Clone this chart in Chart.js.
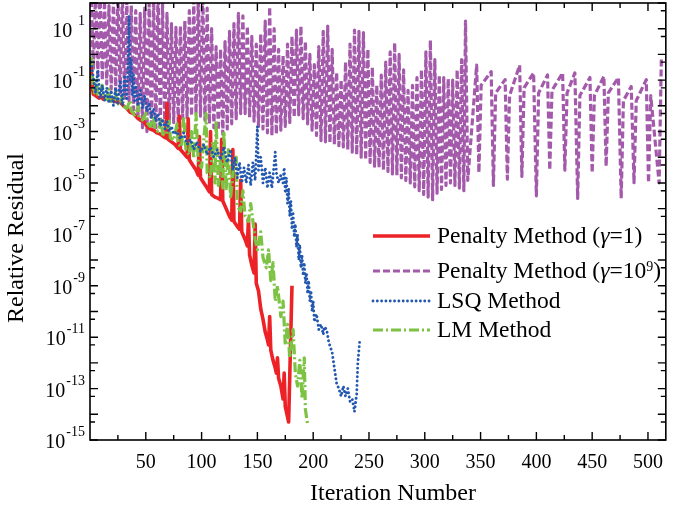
<!DOCTYPE html>
<html>
<head>
<meta charset="utf-8">
<script src="https://cdn.jsdelivr.net/npm/chart.js@4.4.1/dist/chart.umd.min.js"></script>
<style>
  html, body { margin: 0; padding: 0; background: #fff; }
  #wrap { width: 674px; height: 508px; }
</style>
</head>
<body>
<div id="wrap"><canvas id="chart" width="674" height="508"></canvas></div>
<script>
// values are stored as log10(residual)
const redIter = [1,2,3,5,8,10,12,15,18,21,24,27,30,33,36,39,42,45,48,51,54,57,60,63,66,68,69,70,73,76,79,80,81,84,87,88,89,92,95,97,98,99,102,105,107,108,109,112,115,117,118,119,122,125,127,128,129,132,134,135,136,139,141,142,143,145,147,148,149,151,153,155,157,159,160,161,162,164,166,167,168,169,171,173,174,175,177,178,181];
const redLog = [-0.45,-1.2,-1.55,-1.6,-1.7,-1.65,-1.75,-1.7,-1.8,-1.75,-1.85,-1.85,-2.0,-2.1,-2.25,-2.3,-2.45,-2.55,-2.6,-2.8,-2.9,-2.95,-3.05,-3.1,-3.2,-3.25,-1.9,-3.3,-3.4,-3.5,-3.65,-2.4,-3.7,-3.85,-4.0,-2.5,-4.1,-4.3,-4.5,-4.7,-3.2,-4.8,-5.0,-5.2,-5.35,-3.0,-5.45,-5.55,-5.6,-5.65,-3.3,-5.7,-6.0,-6.3,-6.45,-3.7,-6.5,-6.7,-6.8,-4.9,-6.9,-7.2,-7.45,-6.4,-7.8,-8.2,-8.5,-6.6,-8.9,-9.2,-9.9,-10.3,-10.8,-11.1,-11.3,-10.2,-11.5,-11.9,-12.2,-12.4,-11.8,-12.6,-12.9,-13.4,-12.4,-13.7,-14.1,-14.3,-9.0];

const greenIter = [1,2,3,4,6,7,9,11,12,15,17,18,21,23,24,27,29,30,33,36,37,40,43,44,47,50,51,54,57,58,61,64,65,68,71,72,75,78,79,82,84,86,89,91,93,95,97,100,102,104,105,108,110,112,113,115,117,119,120,122,124,126,129,131,132,135,137,139,142,144,146,148,150,153,155,158,160,162,164,166,168,171,173,175,177,179,182,184,186,188,190,192,193,195];
const greenLog = [-0.1,-0.8,-1.3,-1.5,-1.0,-1.55,-1.6,-1.2,-1.7,-1.75,-1.35,-1.8,-1.85,-1.5,-1.9,-1.95,-1.6,-2.0,-2.1,-1.8,-2.2,-2.35,-1.95,-2.45,-2.55,-2.3,-2.65,-2.8,-2.4,-2.9,-3.0,-2.5,-3.1,-3.15,-2.6,-3.25,-3.35,-2.7,-3.5,-3.6,-2.4,-3.75,-3.9,-3.0,-4.05,-2.3,-4.2,-4.4,-3.3,-2.3,-4.6,-4.8,-3.4,-5.0,-2.6,-5.1,-4.0,-5.2,-3.0,-5.3,-3.7,-5.6,-4.2,-4.0,-5.9,-6.1,-5.3,-6.3,-6.5,-5.8,-6.5,-7.2,-7.6,-6.9,-7.9,-8.3,-7.6,-8.8,-8.1,-9.6,-9.0,-10.2,-9.6,-11.3,-10.5,-11.8,-10.7,-12.4,-12.9,-11.9,-13.4,-11.8,-13.8,-14.4];

const blueIter = [1,3,5,7,9,11,13,15,17,19,21,23,25,27,29,31,33,34,35,36,37,38,39,40,41,43,45,47,49,51,53,55,57,59,61,63,65,67,69,71,73,75,78,81,84,87,90,93,96,99,102,105,108,111,114,117,120,123,126,128,130,132,134,136,138,140,142,144,146,148,150,151,153,155,157,159,161,163,166,167,169,171,173,174,175,176,177,178,179,180,181,182,183,184,185,186,187,188,189,190,191,192,193,194,195,196,197,198,199,200,201,203,205,207,209,210,212,214,217,219,221,223,225,227,229,231,233,235,237,239,240,241.6];
const blueLog = [-0.3,-0.9,-1.5,-0.6,-1.7,-1.2,-1.8,-1.3,-1.9,-1.4,-2.0,-1.3,-1.9,-1.0,-2.0,-0.8,-1.8,-0.5,1.5,-1.0,-0.2,-1.6,-0.8,-1.8,-1.2,-2.0,-1.4,-2.1,-1.6,-2.2,-1.9,-2.5,-2.1,-2.6,-2.3,-2.8,-2.5,-2.9,-2.6,-3.0,-2.8,-3.1,-3.0,-3.3,-3.05,-3.5,-3.3,-3.7,-3.4,-3.8,-3.5,-3.9,-3.6,-4.0,-3.7,-4.1,-3.6,-4.2,-3.7,-4.5,-4.0,-4.8,-4.2,-5.0,-4.4,-5.0,-4.3,-5.1,-4.2,-4.9,-2.8,-4.5,-4.0,-5.0,-4.4,-5.2,-4.6,-5.2,-3.8,-4.6,-5.0,-4.7,-5.0,-4.4,-5.4,-4.8,-5.8,-5.2,-6.3,-5.7,-6.8,-6.2,-7.1,-6.6,-7.5,-7.0,-8.0,-7.4,-8.3,-7.8,-8.6,-8.1,-8.9,-8.5,-9.3,-8.8,-9.6,-9.2,-10.0,-9.6,-10.4,-10.1,-10.7,-10.5,-10.9,-10.6,-10.7,-11.2,-11.6,-12.2,-12.8,-13.0,-13.3,-12.9,-13.3,-13.0,-13.5,-13.4,-13.9,-13.2,-12.0,-11.2];

// [iteration, log10 residual]
const purplePts = [
  [1,2.5],[3,-0.6],[5,2.5],[7,-0.8],[9,2.5],[11,-1.0],[13,2.1],[15,-1.15],[17,1.9],[19,-1.35],
  [21,2.1],[23,-1.45],[25,2.3],[27,-1.55],[29,2.4],[31,-1.7],[33,2.1],[35,-1.8],[37,1.9],[39,-2.15],
  [41,1.7],[43,-2.5],[45,1.6],[47,-2.85],[49,1.8],[51,-3.0],[53,2.0],[55,-2.9],[57,2.3],[59,-2.85],
  [61,2.5],[63,-2.8],[65,2.0],[67,-2.75],[69,1.6],[71,-2.7],[73,1.2],[75,-2.65],[77,1.05],[79,-2.6],
  [81,1.1],[83,-2.5],[85,1.3],[87,-2.45],[89,1.7],[91,-2.4],[93,2.1],[95,-2.3],[97,2.3],[99,-2.4],
  [101,2.5],[103,-2.55],[105,1.8],[107,-2.7],[109,1.0],[111,-2.85],[113,0.3],[115,-2.95],[117,0.2],[119,-3.1],
  [121,0.5],[123,-2.9],[125,0.9],[127,-2.7],[129,1.2],[131,-2.5],[133,1.6],[135,-2.3],[137,1.5],[139,-2.3],
  [141,1.1],[143,-2.45],[145,0.7],[147,-2.6],[149,0.4],[151,-2.8],[153,0.8],[155,-2.9],[157,1.3],[159,-3.05],
  [161,1.85],[163,-3.15],[165,1.0],[167,-3.1],[169,0.2],[171,-2.95],[173,-0.05],[175,-2.8],[177,0.4],[179,-2.65],
  [181,0.7],[183,-2.45],[185,0.95],[187,-2.35],[189,1.1],[191,-2.5],[193,0.5],[195,-2.7],[197,0.0],[199,-2.95],
  [201,-0.4],[203,-3.15],[205,0.3],[207,-3.35],[209,0.9],[211,-3.4],[213,1.1],[215,-3.45],[217,0.2],[219,-3.5],
  [221,-0.7],[223,-3.55],[225,-1.0],[227,-3.6],[229,-0.3],[231,-3.7],[233,0.4],[235,-3.8],[237,0.95],[239,-3.9],
  [241,0.9],[243,-4.0],[245,0.85],[247,-4.1],[249,0.2],[251,-4.2],[253,-0.5],[255,-4.35],[257,-1.2],[259,-4.4],
  [261,-0.8],[263,-4.5],[265,-0.3],[267,-4.55],[269,0.1],[271,-4.65],[273,0.45],[275,-4.7],[277,0.0],[279,-4.8],
  [281,-0.6],[283,-4.9],[285,-1.4],[287,-5.0],[289,-1.2],[291,-5.15],[293,-0.9],[295,-5.3],[297,-0.6],[299,-5.45],
  [301,0.1],[303,-5.55],[305,0.55],[307,-5.65],[309,-0.2],[311,-5.4],[313,-0.8],[315,-5.25],[317,-0.9],[319,-5.1],
  [321,-0.95],[323,-5.0],[325,-1.0],[327,-5.1],[329,-0.6],[331,-5.2],[333,-0.2],[335,-5.3],
  [336.5,1.3],[338.5,-4.9],[346.5,-0.42],[348.5,-4.6],[350.5,-1.2],[359.5,-0.67],[361.5,-5.1],[363.5,-1.5],
  [372,-0.98],[374,-4.85],[376,-1.6],[385,-0.42],[387,-4.75],[389,-1.3],[397.5,-0.72],[400,-5.5],[402,-1.5],
  [410,-0.8],[412,-4.5],[414,-1.4],[423.5,-0.72],[425.5,-4.5],[427.5,-1.5],[434.5,-0.72],[437,-5.6],[439,-1.6],
  [448,-0.9],[450,-4.6],[452,-1.6],[460.5,-0.85],[462.5,-4.35],[464.5,-1.5],[473.5,-0.9],[476,-5.6],[478,-1.8],
  [485,-1.25],[487.5,-4.99],[489.5,-1.8],[498.5,-0.98],[500.5,-4.99],[502.5,-1.6],[510,-5.0],[512,-0.13]
];

const xTickValues = [25,50,75,100,125,150,175,200,225,250,275,300,325,350,375,400,425,450,475,500];
const yDecades = [-15,-14,-13,-12,-11,-10,-9,-8,-7,-6,-5,-4,-3,-2,-1,0,1,2];
const yLabelExp = [1,-1,-3,-5,-7,-9,-11,-13,-15];

const RED = '#ec2227';
const PURPLE = '#a45aab';
const BLUE = '#2358b0';
const GREEN = '#7cc243';
const FONT = '"Liberation Serif", "Times New Roman", serif';

function toPoints(iters, logs) {
    return iters.map((it, i) => ({ x: it, y: Math.pow(10, logs[i]) }));
}

const legendRows = [
    { color: RED, dash: [], width: 3.4, cap: 'butt', parts: [['Penalty Method (', 'n'], ['\u03b3', 'i'], ['=1)', 'n']] },
    { color: PURPLE, dash: [7, 3], width: 2.9, cap: 'butt', parts: [['Penalty Method (', 'n'], ['\u03b3', 'i'], ['=10', 'n'], ['9', 's'], [')', 'n']] },
    { color: BLUE, dash: [0.01, 4.3], width: 2.9, cap: 'round', parts: [['LSQ Method', 'n']] },
    { color: GREEN, dash: [10, 3, 2, 3], width: 3.2, cap: 'butt', parts: [['LM Method', 'n']] }
];
const legendY = [236, 271, 301, 330];

const overlay = {
    id: 'overlay',
    afterDatasetsDraw(chart) {
        const { ctx, chartArea: area } = chart;
        const xs = chart.scales.x;
        const ys = chart.scales.y;
        ctx.save();

        // frame
        ctx.strokeStyle = '#000';
        ctx.lineWidth = 1.6;
        ctx.setLineDash([]);
        ctx.strokeRect(area.left, area.top, area.right - area.left, area.bottom - area.top);

        // inward ticks
        ctx.lineWidth = 1.4;
        ctx.beginPath();
        xTickValues.forEach(v => {
            const px = xs.getPixelForValue(v);
            const len = v % 50 === 0 ? 8 : 5;
            ctx.moveTo(px, area.bottom); ctx.lineTo(px, area.bottom - len);
            ctx.moveTo(px, area.top); ctx.lineTo(px, area.top + len);
        });
        yDecades.forEach(e => {
            const py = ys.getPixelForValue(Math.pow(10, e));
            ctx.moveTo(area.left, py); ctx.lineTo(area.left + 8, py);
            ctx.moveTo(area.right, py); ctx.lineTo(area.right - 8, py);
            if (e < 2) {
                const pm = ys.getPixelForValue(5 * Math.pow(10, e));
                ctx.moveTo(area.left, pm); ctx.lineTo(area.left + 5, pm);
                ctx.moveTo(area.right, pm); ctx.lineTo(area.right - 5, pm);
            }
        });
        ctx.stroke();

        // y tick labels 10^n
        ctx.fillStyle = '#000';
        ctx.textBaseline = 'alphabetic';
        ctx.textAlign = 'left';
        yLabelExp.forEach(e => {
            const py = ys.getPixelForValue(Math.pow(10, e));
            const digits = String(Math.abs(e));
            ctx.font = '20px ' + FONT;
            const w10 = ctx.measureText('10').width;
            ctx.font = '14px ' + FONT;
            const wExp = ctx.measureText('-' + digits).width;
            const wMinus = ctx.measureText('-').width;
            const x10 = 85 - (w10 + 1 + wExp);
            ctx.font = '20px ' + FONT;
            ctx.fillText('10', x10, py + 8);
            ctx.font = '14px ' + FONT;
            if (e < 0) {
                ctx.fillText('-' + digits, x10 + w10 + 1, py - 4);
            } else {
                ctx.fillText(digits, x10 + w10 + 1 + wMinus, py - 4);
            }
        });

        // axis titles
        ctx.font = '24px ' + FONT;
        ctx.textAlign = 'center';
        ctx.fillText('Iteration Number', 393, 500);
        ctx.save();
        ctx.translate(23, 238);
        ctx.rotate(-Math.PI / 2);
        ctx.fillText('Relative Residual', 0, 0);
        ctx.restore();

        // legend
        legendRows.forEach((row, i) => {
            const y = legendY[i];
            ctx.strokeStyle = row.color;
            ctx.lineWidth = row.width;
            ctx.lineCap = row.cap;
            ctx.setLineDash(row.dash);
            ctx.beginPath();
            ctx.moveTo(373, y);
            ctx.lineTo(430, y);
            ctx.stroke();
            ctx.setLineDash([]);
            ctx.lineCap = 'butt';
            let x = 437;
            ctx.textAlign = 'left';
            row.parts.forEach(([t, f]) => {
                let by = y + 7;
                if (f === 'i') ctx.font = 'italic 23.5px ' + FONT;
                else if (f === 's') { ctx.font = '14px ' + FONT; by = y; }
                else ctx.font = '23.5px ' + FONT;
                ctx.fillText(t, x, by);
                x += ctx.measureText(t).width;
            });
        });

        ctx.restore();
    }
};

new Chart(document.getElementById('chart'), {
    type: 'scatter',
    data: {
        datasets: [
            {
                label: 'LSQ Method',
                data: toPoints(blueIter, blueLog),
                showLine: true, borderColor: BLUE, borderWidth: 2.9,
                borderDash: [0.01, 4.3], borderCapStyle: 'round', borderJoinStyle: 'round',
                pointRadius: 0, tension: 0, fill: false
            },
            {
                label: 'LM Method',
                data: toPoints(greenIter, greenLog),
                showLine: true, borderColor: GREEN, borderWidth: 3.2,
                borderDash: [10, 3, 2, 3], borderCapStyle: 'butt', borderJoinStyle: 'round',
                pointRadius: 0, tension: 0, fill: false
            },
            {
                label: 'Penalty Method (γ=1)',
                data: toPoints(redIter, redLog),
                showLine: true, borderColor: RED, borderWidth: 3.6,
                borderJoinStyle: 'round',
                pointRadius: 0, tension: 0, fill: false
            },
            {
                label: 'Penalty Method (γ=10^9)',
                data: purplePts.map(p => ({ x: p[0], y: Math.pow(10, p[1]) })),
                showLine: true, borderColor: PURPLE, borderWidth: 3.2,
                borderDash: [7, 3], borderCapStyle: 'butt', borderJoinStyle: 'round',
                pointRadius: 0, tension: 0, fill: false, clip: 0
            }
        ]
    },
    options: {
        responsive: false,
        animation: false,
        devicePixelRatio: 1,
        layout: { padding: { top: 3, right: 1, left: 0, bottom: 0 } },
        plugins: { legend: { display: false }, tooltip: { enabled: false } },
        scales: {
            x: {
                type: 'linear',
                position: 'bottom',
                min: 0,
                max: 516,
                afterBuildTicks: s => { s.ticks = xTickValues.map(v => ({ value: v })); },
                afterFit: s => { s.height = 68; },
                grid: { display: false, drawTicks: false },
                border: { display: false },
                ticks: {
                    autoSkip: false,
                    maxRotation: 0,
                    padding: 11,
                    color: '#000',
                    font: { family: FONT, size: 20 },
                    callback: v => (v % 50 === 0 ? String(v) : '')
                }
            },
            y: {
                type: 'logarithmic',
                position: 'left',
                min: 1e-15,
                max: 100,
                afterBuildTicks: s => { s.ticks = yDecades.map(e => ({ value: Math.pow(10, e) })); },
                afterFit: s => { s.width = 90; },
                grid: { display: false, drawTicks: false },
                border: { display: false },
                ticks: { display: false }
            }
        }
    },
    plugins: [overlay]
});
</script>
</body>
</html>
